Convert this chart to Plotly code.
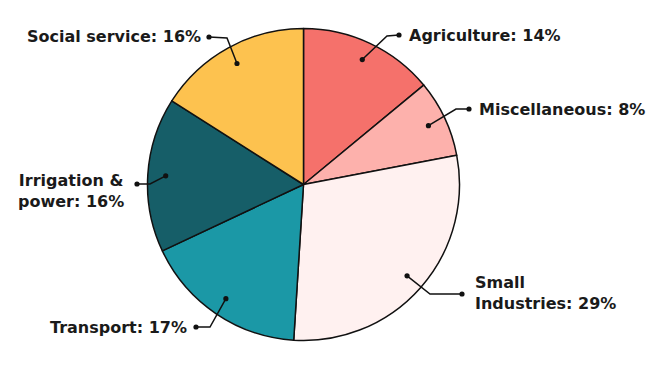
import math
import plotly.graph_objects as go

# ---- data ----
categories = ["Agriculture", "Miscellaneous", "Small Industries", "Transport", "Irrigation & power", "Social service"]
values = [14, 8, 29, 17, 16, 16]
label_texts = ["Agriculture: 14%", "Miscellaneous: 8%", "Small<br>Industries: 29%", "Transport: 17%",
               "Irrigation &<br>power: 16%", "Social service: 16%"]
colors = ["#F5716B", "#FDB1AC", "#FFF1F0", "#1B98A6", "#165E68", "#FDC24F"]

# ---- layout constants (pixels) ----
W, H = 660, 370
CX, CY, R = 303.5, 184.5, 156.0
DOT_R_FRAC = 0.885
FONT = "DejaVu Sans"
FSIZE = 16
TEXT_COLOR = "#1a1a1a"
# per-label: elbow point, outer dot, text anchor (x, y, xanchor, align)
label_layout = [
    dict(elbow=(387, 36), outer=(399, 35), text=(407, 35, "left", "left")),
    dict(elbow=(456, 109), outer=(469, 109), text=(477, 109, "left", "left")),
    dict(elbow=(430, 294), outer=(462, 294), text=(473, 293, "left", "left")),
    dict(elbow=(210, 327), outer=(196, 327), text=(189, 327, "right", "left")),
    dict(elbow=(150, 184), outer=(137, 184), text=(126, 191, "right", "center")),
    dict(elbow=(227, 38), outer=(209, 37), text=(203, 37, "right", "left")),
]

def px(x):
    return x / W

def py(y):
    return 1 - y / H

fig = go.Figure()
fig.add_trace(go.Pie(
    labels=categories, values=values, sort=False, direction="clockwise", rotation=0,
    marker=dict(colors=colors, line=dict(color="#111111", width=1.5)),
    textinfo="none", hoverinfo="label+percent", showlegend=False,
    domain=dict(x=[px(CX - R), px(CX + R)], y=[py(CY + R), py(CY - R)]),
))

shapes = []
annotations = []
total = sum(values)
cum = 0
for i, v in enumerate(values):
    mid = (cum + v / 2) / total * 2 * math.pi
    cum += v
    dx = CX + DOT_R_FRAC * R * math.sin(mid)
    dy = CY - DOT_R_FRAC * R * math.cos(mid)
    L = label_layout[i]
    ex, ey = L["elbow"]
    ox, oy = L["outer"]
    path = f"M {px(dx)},{py(dy)} L {px(ex)},{py(ey)} L {px(ox)},{py(oy)}"
    shapes.append(dict(type="path", path=path, xref="paper", yref="paper",
                       line=dict(color="#111111", width=1.5), layer="above"))
    for (qx, qy) in [(dx, dy), (ox, oy)]:
        rr = 2.6
        shapes.append(dict(type="circle", xref="paper", yref="paper",
                           x0=px(qx - rr), x1=px(qx + rr), y0=py(qy + rr), y1=py(qy - rr),
                           fillcolor="#111111", line=dict(width=0), layer="above"))
    tx, ty, xa, al = L["text"]
    annotations.append(dict(text=f"<b>{label_texts[i]}</b>", x=px(tx), y=py(ty), xref="paper", yref="paper",
                            xanchor=xa, yanchor="middle", align=al, showarrow=False,
                            font=dict(family=FONT, size=FSIZE, color=TEXT_COLOR)))

fig.update_layout(
    width=W, height=H, margin=dict(l=0, r=0, t=0, b=0),
    paper_bgcolor="white", plot_bgcolor="white",
    shapes=shapes, annotations=annotations,
)
fig.write_html("out.html", config={"displayModeBar": False},
               post_script="document.body.style.margin='0';document.body.style.overflow='hidden';")
